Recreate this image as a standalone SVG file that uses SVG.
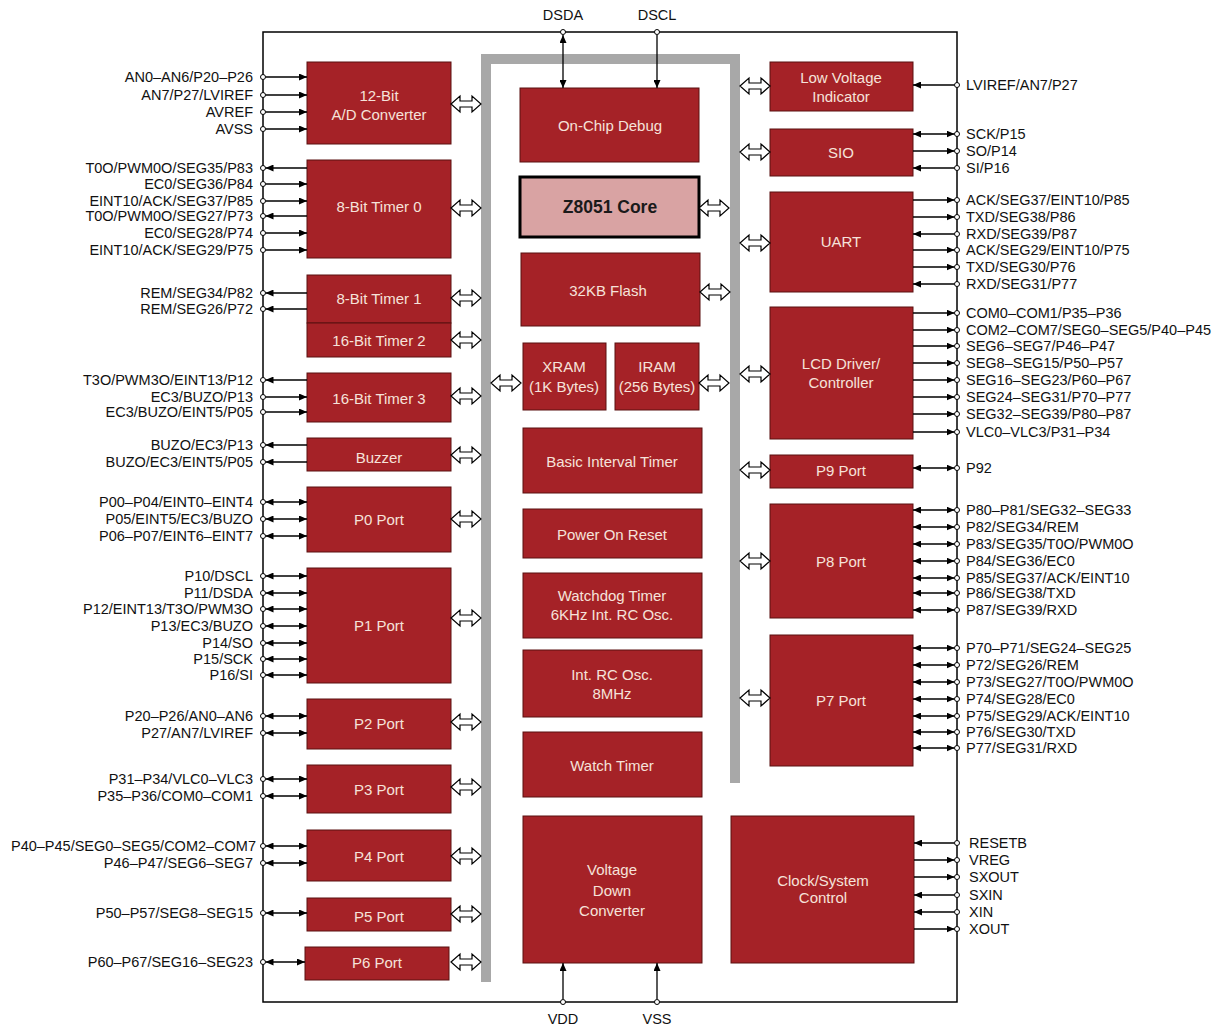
<svg xmlns="http://www.w3.org/2000/svg" xmlns:xlink="http://www.w3.org/1999/xlink" width="1213" height="1026" viewBox="0 0 1213 1026">
<style>
.blk{fill:#a52227;stroke:#5a1010;stroke-width:1}
.core{fill:#d9a3a3;stroke:#000;stroke-width:3}
.bt{fill:#f6e2da;font-family:"Liberation Sans",Arial,sans-serif;font-size:15px;text-anchor:middle;dominant-baseline:central}
.ct{fill:#1a1a1a;font-family:"Liberation Sans",Arial,sans-serif;font-size:17.5px;font-weight:bold;text-anchor:middle;dominant-baseline:central}
.pl{fill:#111;font-family:"Liberation Sans",Arial,sans-serif;font-size:14.5px;dominant-baseline:central}
.l{text-anchor:end}
.m{text-anchor:middle}
.w{stroke:#000;stroke-width:1.3;fill:none}
.in{marker-end:url(#ah)}
.out{marker-start:url(#ah)}
.bi{marker-start:url(#ah);marker-end:url(#ah)}
.pin{fill:#fff;stroke:#000;stroke-width:1}
.bus{stroke:#a8a8a8;stroke-width:10;fill:none}
.chip{fill:none;stroke:#000;stroke-width:1.5}
</style>
<defs>
<marker id="ah" viewBox="0 0 8 7" refX="8" refY="3.5" markerWidth="8" markerHeight="7" markerUnits="userSpaceOnUse" orient="auto-start-reverse"><path d="M0,0 L8,3.5 L0,7 z" fill="#000"/></marker>
<path id="ha" d="M0,0 L9,-8 L9,-3 L21,-3 L21,-8 L30,0 L21,8 L21,3 L9,3 L9,8 Z" fill="#fff" stroke="#000" stroke-width="1.2"/>
</defs>
<rect width="1213" height="1026" fill="#fff"/>
<rect class="chip" x="263" y="32" width="694" height="970"/>
<path class="bus" d="M486,982 L486,59 L735,59 L735,783"/>

<g id="adc"><rect class="blk" x="307" y="62" width="144" height="82"/><text class="bt" x="379" y="95">12-Bit</text><text class="bt" x="379" y="114">A/D Converter</text></g>
<g id="timer0"><rect class="blk" x="307" y="160" width="144" height="98"/><text class="bt" x="379" y="206">8-Bit Timer 0</text></g>
<g id="timer1"><rect class="blk" x="307" y="275" width="144" height="48"/><text class="bt" x="379" y="298">8-Bit Timer 1</text></g>
<g id="timer2"><rect class="blk" x="307" y="323" width="144" height="34"/><text class="bt" x="379" y="340">16-Bit Timer 2</text></g>
<g id="timer3"><rect class="blk" x="307" y="373" width="144" height="49"/><text class="bt" x="379" y="398">16-Bit Timer 3</text></g>
<g id="buzzer"><rect class="blk" x="307" y="438" width="144" height="33"/><text class="bt" x="379" y="457">Buzzer</text></g>
<g id="p0"><rect class="blk" x="307" y="487" width="144" height="65"/><text class="bt" x="379" y="519">P0 Port</text></g>
<g id="p1"><rect class="blk" x="307" y="568" width="144" height="115"/><text class="bt" x="379" y="625">P1 Port</text></g>
<g id="p2"><rect class="blk" x="307" y="699" width="144" height="50"/><text class="bt" x="379" y="723">P2 Port</text></g>
<g id="p3"><rect class="blk" x="307" y="765" width="144" height="48"/><text class="bt" x="379" y="789">P3 Port</text></g>
<g id="p4"><rect class="blk" x="307" y="830" width="144" height="51"/><text class="bt" x="379" y="856">P4 Port</text></g>
<g id="p5"><rect class="blk" x="307" y="898" width="144" height="33"/><text class="bt" x="379" y="916">P5 Port</text></g>
<g id="p6"><rect class="blk" x="305" y="947" width="144" height="33"/><text class="bt" x="377" y="962">P6 Port</text></g>

<g id="ocd"><rect class="blk" x="520" y="88" width="179" height="74"/><text class="bt" x="610" y="125">On-Chip Debug</text></g>
<g id="core"><rect class="core" x="520" y="177" width="179" height="60"/><text class="ct" x="610" y="207">Z8051 Core</text></g>
<g id="flash"><rect class="blk" x="521" y="253" width="179" height="73"/><text class="bt" x="608" y="290">32KB Flash</text></g>
<g id="xram"><rect class="blk" x="523" y="343" width="83" height="67"/><text class="bt" x="564" y="366">XRAM</text><text class="bt" x="564" y="386">(1K Bytes)</text></g>
<g id="iram"><rect class="blk" x="615" y="343" width="84" height="67"/><text class="bt" x="657" y="366">IRAM</text><text class="bt" x="657" y="386">(256 Bytes)</text></g>
<g id="bit"><rect class="blk" x="523" y="428" width="179" height="65"/><text class="bt" x="612" y="461">Basic Interval Timer</text></g>
<g id="por"><rect class="blk" x="523" y="509" width="179" height="49"/><text class="bt" x="612" y="534">Power On Reset</text></g>
<g id="wdt"><rect class="blk" x="523" y="573" width="179" height="65"/><text class="bt" x="612" y="595">Watchdog Timer</text><text class="bt" x="612" y="614">6KHz Int. RC Osc.</text></g>
<g id="rcosc"><rect class="blk" x="523" y="650" width="179" height="67"/><text class="bt" x="612" y="674">Int. RC Osc.</text><text class="bt" x="612" y="693">8MHz</text></g>
<g id="wt"><rect class="blk" x="523" y="732" width="179" height="65"/><text class="bt" x="612" y="765">Watch Timer</text></g>
<g id="vdc"><rect class="blk" x="523" y="816" width="179" height="147"/><text class="bt" x="612" y="869">Voltage</text><text class="bt" x="612" y="890">Down</text><text class="bt" x="612" y="910">Converter</text></g>

<g id="lvi"><rect class="blk" x="770" y="62" width="143" height="49"/><text class="bt" x="841" y="77">Low Voltage</text><text class="bt" x="841" y="96">Indicator</text></g>
<g id="sio"><rect class="blk" x="770" y="129" width="143" height="47"/><text class="bt" x="841" y="152">SIO</text></g>
<g id="uart"><rect class="blk" x="770" y="192" width="143" height="100"/><text class="bt" x="841" y="241">UART</text></g>
<g id="lcd"><rect class="blk" x="770" y="307" width="143" height="132"/><text class="bt" x="841" y="363">LCD Driver/</text><text class="bt" x="841" y="382">Controller</text></g>
<g id="p9"><rect class="blk" x="770" y="455" width="143" height="33"/><text class="bt" x="841" y="470">P9 Port</text></g>
<g id="p8"><rect class="blk" x="770" y="504" width="143" height="114"/><text class="bt" x="841" y="561">P8 Port</text></g>
<g id="p7"><rect class="blk" x="770" y="635" width="143" height="131"/><text class="bt" x="841" y="700">P7 Port</text></g>
<g id="clk"><rect class="blk" x="731" y="816" width="183" height="147"/><text class="bt" x="823" y="880">Clock/System</text><text class="bt" x="823" y="897">Control</text></g>

<g id="connectors">
<use href="#ha" x="451" y="104"/><use href="#ha" x="451" y="208"/><use href="#ha" x="451" y="298"/><use href="#ha" x="451" y="340"/><use href="#ha" x="451" y="396"/><use href="#ha" x="451" y="455"/><use href="#ha" x="451" y="519"/><use href="#ha" x="451" y="618"/><use href="#ha" x="451" y="722"/><use href="#ha" x="451" y="787"/><use href="#ha" x="451" y="856"/><use href="#ha" x="451" y="914"/><use href="#ha" x="451" y="962"/>
<use href="#ha" x="740" y="86"/><use href="#ha" x="740" y="152"/><use href="#ha" x="740" y="243"/><use href="#ha" x="740" y="374"/><use href="#ha" x="740" y="470"/><use href="#ha" x="740" y="561"/><use href="#ha" x="740" y="698"/>
<use href="#ha" x="699" y="208"/><use href="#ha" x="700" y="292"/><use href="#ha" x="699" y="383"/><use href="#ha" x="491" y="383"/>

<line class="w bi" x1="563" y1="35" x2="563" y2="88"/>
<line class="w in" x1="657" y1="35" x2="657" y2="88"/>
<line class="w in" x1="563" y1="999" x2="563" y2="963"/>
<line class="w in" x1="657" y1="999" x2="657" y2="963"/>
<circle class="pin" cx="563" cy="32" r="2.5"/><circle class="pin" cx="657" cy="32" r="2.5"/>
<circle class="pin" cx="563" cy="1002" r="2.5"/><circle class="pin" cx="657" cy="1002" r="2.5"/>

<g>
<line class="w in" x1="265.5" y1="77" x2="307" y2="77"/>
<line class="w in" x1="265.5" y1="95" x2="307" y2="95"/>
<line class="w in" x1="265.5" y1="112" x2="307" y2="112"/>
<line class="w in" x1="265.5" y1="129" x2="307" y2="129"/>
<line class="w out" x1="265.5" y1="168" x2="307" y2="168"/>
<line class="w in" x1="265.5" y1="184" x2="307" y2="184"/>
<line class="w in" x1="265.5" y1="201" x2="307" y2="201"/>
<line class="w out" x1="265.5" y1="216" x2="307" y2="216"/>
<line class="w in" x1="265.5" y1="233" x2="307" y2="233"/>
<line class="w in" x1="265.5" y1="250" x2="307" y2="250"/>
<line class="w out" x1="265.5" y1="293" x2="307" y2="293"/>
<line class="w out" x1="265.5" y1="309" x2="307" y2="309"/>
<line class="w out" x1="265.5" y1="380" x2="307" y2="380"/>
<line class="w in" x1="265.5" y1="397" x2="307" y2="397"/>
<line class="w in" x1="265.5" y1="412" x2="307" y2="412"/>
<line class="w out" x1="265.5" y1="445" x2="307" y2="445"/>
<line class="w out" x1="265.5" y1="462" x2="307" y2="462"/>
<line class="w bi" x1="265.5" y1="502" x2="307" y2="502"/>
<line class="w bi" x1="265.5" y1="519" x2="307" y2="519"/>
<line class="w bi" x1="265.5" y1="536" x2="307" y2="536"/>
<line class="w bi" x1="265.5" y1="576" x2="307" y2="576"/>
<line class="w bi" x1="265.5" y1="593" x2="307" y2="593"/>
<line class="w bi" x1="265.5" y1="609" x2="307" y2="609"/>
<line class="w bi" x1="265.5" y1="626" x2="307" y2="626"/>
<line class="w bi" x1="265.5" y1="643" x2="307" y2="643"/>
<line class="w bi" x1="265.5" y1="659" x2="307" y2="659"/>
<line class="w bi" x1="265.5" y1="675" x2="307" y2="675"/>
<line class="w bi" x1="265.5" y1="716" x2="307" y2="716"/>
<line class="w bi" x1="265.5" y1="733" x2="307" y2="733"/>
<line class="w bi" x1="265.5" y1="779" x2="307" y2="779"/>
<line class="w bi" x1="265.5" y1="796" x2="307" y2="796"/>
<line class="w bi" x1="265.5" y1="846" x2="307" y2="846"/>
<line class="w bi" x1="265.5" y1="863" x2="307" y2="863"/>
<line class="w bi" x1="265.5" y1="913" x2="307" y2="913"/>
<line class="w bi" x1="265.5" y1="962" x2="305" y2="962"/>
</g>
<g>
<circle class="pin" cx="263" cy="77" r="2.5"/><circle class="pin" cx="263" cy="95" r="2.5"/><circle class="pin" cx="263" cy="112" r="2.5"/><circle class="pin" cx="263" cy="129" r="2.5"/>
<circle class="pin" cx="263" cy="168" r="2.5"/><circle class="pin" cx="263" cy="184" r="2.5"/><circle class="pin" cx="263" cy="201" r="2.5"/><circle class="pin" cx="263" cy="216" r="2.5"/><circle class="pin" cx="263" cy="233" r="2.5"/><circle class="pin" cx="263" cy="250" r="2.5"/>
<circle class="pin" cx="263" cy="293" r="2.5"/><circle class="pin" cx="263" cy="309" r="2.5"/>
<circle class="pin" cx="263" cy="380" r="2.5"/><circle class="pin" cx="263" cy="397" r="2.5"/><circle class="pin" cx="263" cy="412" r="2.5"/>
<circle class="pin" cx="263" cy="445" r="2.5"/><circle class="pin" cx="263" cy="462" r="2.5"/>
<circle class="pin" cx="263" cy="502" r="2.5"/><circle class="pin" cx="263" cy="519" r="2.5"/><circle class="pin" cx="263" cy="536" r="2.5"/>
<circle class="pin" cx="263" cy="576" r="2.5"/><circle class="pin" cx="263" cy="593" r="2.5"/><circle class="pin" cx="263" cy="609" r="2.5"/><circle class="pin" cx="263" cy="626" r="2.5"/><circle class="pin" cx="263" cy="643" r="2.5"/><circle class="pin" cx="263" cy="659" r="2.5"/><circle class="pin" cx="263" cy="675" r="2.5"/>
<circle class="pin" cx="263" cy="716" r="2.5"/><circle class="pin" cx="263" cy="733" r="2.5"/>
<circle class="pin" cx="263" cy="779" r="2.5"/><circle class="pin" cx="263" cy="796" r="2.5"/>
<circle class="pin" cx="263" cy="846" r="2.5"/><circle class="pin" cx="263" cy="863" r="2.5"/>
<circle class="pin" cx="263" cy="913" r="2.5"/><circle class="pin" cx="263" cy="962" r="2.5"/>
</g>

<g>
<line class="w in" x1="954.5" y1="85" x2="913" y2="85"/>
<line class="w bi" x1="954.5" y1="134" x2="913" y2="134"/>
<line class="w out" x1="954.5" y1="151" x2="913" y2="151"/>
<line class="w in" x1="954.5" y1="168" x2="913" y2="168"/>
<line class="w out" x1="954.5" y1="200" x2="913" y2="200"/>
<line class="w out" x1="954.5" y1="217" x2="913" y2="217"/>
<line class="w in" x1="954.5" y1="234" x2="913" y2="234"/>
<line class="w out" x1="954.5" y1="250" x2="913" y2="250"/>
<line class="w out" x1="954.5" y1="267" x2="913" y2="267"/>
<line class="w in" x1="954.5" y1="284" x2="913" y2="284"/>
<line class="w out" x1="954.5" y1="313" x2="913" y2="313"/>
<line class="w out" x1="954.5" y1="330" x2="913" y2="330"/>
<line class="w out" x1="954.5" y1="346" x2="913" y2="346"/>
<line class="w out" x1="954.5" y1="363" x2="913" y2="363"/>
<line class="w out" x1="954.5" y1="380" x2="913" y2="380"/>
<line class="w out" x1="954.5" y1="397" x2="913" y2="397"/>
<line class="w out" x1="954.5" y1="414" x2="913" y2="414"/>
<line class="w out" x1="954.5" y1="432" x2="913" y2="432"/>
<line class="w bi" x1="954.5" y1="468" x2="913" y2="468"/>
<line class="w bi" x1="954.5" y1="510" x2="913" y2="510"/>
<line class="w bi" x1="954.5" y1="527" x2="913" y2="527"/>
<line class="w bi" x1="954.5" y1="544" x2="913" y2="544"/>
<line class="w bi" x1="954.5" y1="561" x2="913" y2="561"/>
<line class="w bi" x1="954.5" y1="578" x2="913" y2="578"/>
<line class="w bi" x1="954.5" y1="593" x2="913" y2="593"/>
<line class="w bi" x1="954.5" y1="610" x2="913" y2="610"/>
<line class="w bi" x1="954.5" y1="648" x2="913" y2="648"/>
<line class="w bi" x1="954.5" y1="665" x2="913" y2="665"/>
<line class="w bi" x1="954.5" y1="682" x2="913" y2="682"/>
<line class="w bi" x1="954.5" y1="699" x2="913" y2="699"/>
<line class="w bi" x1="954.5" y1="716" x2="913" y2="716"/>
<line class="w bi" x1="954.5" y1="732" x2="913" y2="732"/>
<line class="w bi" x1="954.5" y1="748" x2="913" y2="748"/>
<line class="w in" x1="954.5" y1="843" x2="914" y2="843"/>
<line class="w out" x1="954.5" y1="860" x2="914" y2="860"/>
<line class="w out" x1="954.5" y1="877" x2="914" y2="877"/>
<line class="w in" x1="954.5" y1="895" x2="914" y2="895"/>
<line class="w in" x1="954.5" y1="912" x2="914" y2="912"/>
<line class="w out" x1="954.5" y1="929" x2="914" y2="929"/>
</g>
<g>
<circle class="pin" cx="957" cy="85" r="2.5"/>
<circle class="pin" cx="957" cy="134" r="2.5"/><circle class="pin" cx="957" cy="151" r="2.5"/><circle class="pin" cx="957" cy="168" r="2.5"/>
<circle class="pin" cx="957" cy="200" r="2.5"/><circle class="pin" cx="957" cy="217" r="2.5"/><circle class="pin" cx="957" cy="234" r="2.5"/><circle class="pin" cx="957" cy="250" r="2.5"/><circle class="pin" cx="957" cy="267" r="2.5"/><circle class="pin" cx="957" cy="284" r="2.5"/>
<circle class="pin" cx="957" cy="313" r="2.5"/><circle class="pin" cx="957" cy="330" r="2.5"/><circle class="pin" cx="957" cy="346" r="2.5"/><circle class="pin" cx="957" cy="363" r="2.5"/><circle class="pin" cx="957" cy="380" r="2.5"/><circle class="pin" cx="957" cy="397" r="2.5"/><circle class="pin" cx="957" cy="414" r="2.5"/><circle class="pin" cx="957" cy="432" r="2.5"/>
<circle class="pin" cx="957" cy="468" r="2.5"/>
<circle class="pin" cx="957" cy="510" r="2.5"/><circle class="pin" cx="957" cy="527" r="2.5"/><circle class="pin" cx="957" cy="544" r="2.5"/><circle class="pin" cx="957" cy="561" r="2.5"/><circle class="pin" cx="957" cy="578" r="2.5"/><circle class="pin" cx="957" cy="593" r="2.5"/><circle class="pin" cx="957" cy="610" r="2.5"/>
<circle class="pin" cx="957" cy="648" r="2.5"/><circle class="pin" cx="957" cy="665" r="2.5"/><circle class="pin" cx="957" cy="682" r="2.5"/><circle class="pin" cx="957" cy="699" r="2.5"/><circle class="pin" cx="957" cy="716" r="2.5"/><circle class="pin" cx="957" cy="732" r="2.5"/><circle class="pin" cx="957" cy="748" r="2.5"/>
<circle class="pin" cx="957" cy="843" r="2.5"/><circle class="pin" cx="957" cy="860" r="2.5"/><circle class="pin" cx="957" cy="877" r="2.5"/><circle class="pin" cx="957" cy="895" r="2.5"/><circle class="pin" cx="957" cy="912" r="2.5"/><circle class="pin" cx="957" cy="929" r="2.5"/>
</g>
</g>

<g id="labels">
<text class="pl m" x="563" y="15">DSDA</text><text class="pl m" x="657" y="15">DSCL</text>
<text class="pl m" x="563" y="1019">VDD</text><text class="pl m" x="657" y="1019">VSS</text>
<text class="pl l" x="253" y="77">AN0–AN6/P20–P26</text>
<text class="pl l" x="253" y="95">AN7/P27/LVIREF</text>
<text class="pl l" x="253" y="112">AVREF</text>
<text class="pl l" x="253" y="129">AVSS</text>
<text class="pl l" x="253" y="168">T0O/PWM0O/SEG35/P83</text>
<text class="pl l" x="253" y="184">EC0/SEG36/P84</text>
<text class="pl l" x="253" y="201">EINT10/ACK/SEG37/P85</text>
<text class="pl l" x="253" y="216">T0O/PWM0O/SEG27/P73</text>
<text class="pl l" x="253" y="233">EC0/SEG28/P74</text>
<text class="pl l" x="253" y="250">EINT10/ACK/SEG29/P75</text>
<text class="pl l" x="253" y="293">REM/SEG34/P82</text>
<text class="pl l" x="253" y="309">REM/SEG26/P72</text>
<text class="pl l" x="253" y="380">T3O/PWM3O/EINT13/P12</text>
<text class="pl l" x="253" y="397">EC3/BUZO/P13</text>
<text class="pl l" x="253" y="412">EC3/BUZO/EINT5/P05</text>
<text class="pl l" x="253" y="445">BUZO/EC3/P13</text>
<text class="pl l" x="253" y="462">BUZO/EC3/EINT5/P05</text>
<text class="pl l" x="253" y="502">P00–P04/EINT0–EINT4</text>
<text class="pl l" x="253" y="519">P05/EINT5/EC3/BUZO</text>
<text class="pl l" x="253" y="536">P06–P07/EINT6–EINT7</text>
<text class="pl l" x="253" y="576">P10/DSCL</text>
<text class="pl l" x="253" y="593">P11/DSDA</text>
<text class="pl l" x="253" y="609">P12/EINT13/T3O/PWM3O</text>
<text class="pl l" x="253" y="626">P13/EC3/BUZO</text>
<text class="pl l" x="253" y="643">P14/SO</text>
<text class="pl l" x="253" y="659">P15/SCK</text>
<text class="pl l" x="253" y="675">P16/SI</text>
<text class="pl l" x="253" y="716">P20–P26/AN0–AN6</text>
<text class="pl l" x="253" y="733">P27/AN7/LVIREF</text>
<text class="pl l" x="253" y="779">P31–P34/VLC0–VLC3</text>
<text class="pl l" x="253" y="796">P35–P36/COM0–COM1</text>
<text class="pl l" x="256" y="846">P40–P45/SEG0–SEG5/COM2–COM7</text>
<text class="pl l" x="253" y="863">P46–P47/SEG6–SEG7</text>
<text class="pl l" x="253" y="913">P50–P57/SEG8–SEG15</text>
<text class="pl l" x="253" y="962">P60–P67/SEG16–SEG23</text>
<text class="pl" x="966" y="85">LVIREF/AN7/P27</text>
<text class="pl" x="966" y="134">SCK/P15</text>
<text class="pl" x="966" y="151">SO/P14</text>
<text class="pl" x="966" y="168">SI/P16</text>
<text class="pl" x="966" y="200">ACK/SEG37/EINT10/P85</text>
<text class="pl" x="966" y="217">TXD/SEG38/P86</text>
<text class="pl" x="966" y="234">RXD/SEG39/P87</text>
<text class="pl" x="966" y="250">ACK/SEG29/EINT10/P75</text>
<text class="pl" x="966" y="267">TXD/SEG30/P76</text>
<text class="pl" x="966" y="284">RXD/SEG31/P77</text>
<text class="pl" x="966" y="313">COM0–COM1/P35–P36</text>
<text class="pl" x="966" y="330">COM2–COM7/SEG0–SEG5/P40–P45</text>
<text class="pl" x="966" y="346">SEG6–SEG7/P46–P47</text>
<text class="pl" x="966" y="363">SEG8–SEG15/P50–P57</text>
<text class="pl" x="966" y="380">SEG16–SEG23/P60–P67</text>
<text class="pl" x="966" y="397">SEG24–SEG31/P70–P77</text>
<text class="pl" x="966" y="414">SEG32–SEG39/P80–P87</text>
<text class="pl" x="966" y="432">VLC0–VLC3/P31–P34</text>
<text class="pl" x="966" y="468">P92</text>
<text class="pl" x="966" y="510">P80–P81/SEG32–SEG33</text>
<text class="pl" x="966" y="527">P82/SEG34/REM</text>
<text class="pl" x="966" y="544">P83/SEG35/T0O/PWM0O</text>
<text class="pl" x="966" y="561">P84/SEG36/EC0</text>
<text class="pl" x="966" y="578">P85/SEG37/ACK/EINT10</text>
<text class="pl" x="966" y="593">P86/SEG38/TXD</text>
<text class="pl" x="966" y="610">P87/SEG39/RXD</text>
<text class="pl" x="966" y="648">P70–P71/SEG24–SEG25</text>
<text class="pl" x="966" y="665">P72/SEG26/REM</text>
<text class="pl" x="966" y="682">P73/SEG27/T0O/PWM0O</text>
<text class="pl" x="966" y="699">P74/SEG28/EC0</text>
<text class="pl" x="966" y="716">P75/SEG29/ACK/EINT10</text>
<text class="pl" x="966" y="732">P76/SEG30/TXD</text>
<text class="pl" x="966" y="748">P77/SEG31/RXD</text>
<text class="pl" x="969" y="843">RESETB</text>
<text class="pl" x="969" y="860">VREG</text>
<text class="pl" x="969" y="877">SXOUT</text>
<text class="pl" x="969" y="895">SXIN</text>
<text class="pl" x="969" y="912">XIN</text>
<text class="pl" x="969" y="929">XOUT</text>
</g>
</svg>
